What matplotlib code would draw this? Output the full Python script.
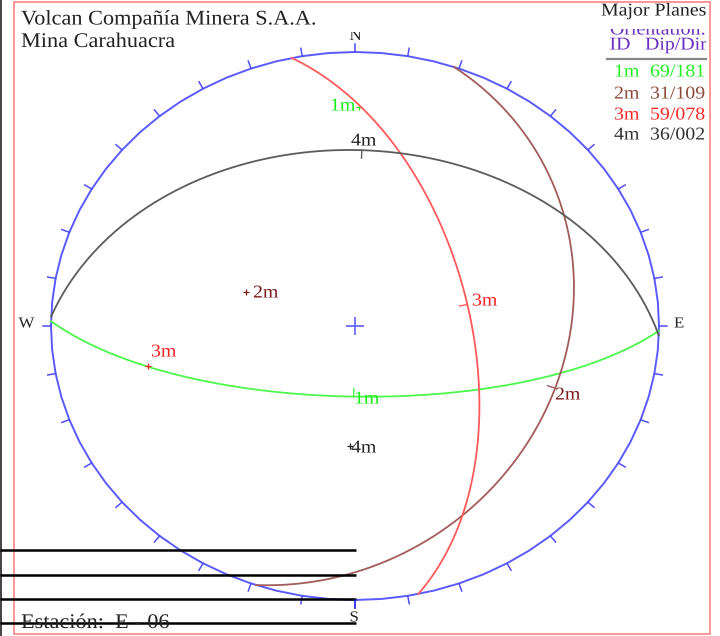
import numpy as np
import matplotlib
matplotlib.use('Agg')
import matplotlib.pyplot as plt
from matplotlib.patches import Rectangle
from matplotlib.patheffects import AbstractPathEffect
from matplotlib.transforms import Affine2D

plt.rcParams['font.family'] = ['Liberation Serif', 'DejaVu Serif']

# planes
ids = ['1m', '2m', '3m', '4m']
dips = [69, 31, 59, 36]
dip_dirs = [181, 109, 78, 2]

line_colors = ['#4cf84c', '#a25c5c', '#ff5a5a', '#5c5c5c']
text_colors = ['#22f022', '#8a4a3a', '#fb2a2a', '#333333']
label_colors = ['#14ee14', '#7a1a1a', '#f82020', '#222222']

tick_az = np.arange(0, 360, 10)

# pixel layout of the net (it is stretched, not round)
cx, cy = 355, 326
rx, ry = 304, 274


class Wide(AbstractPathEffect):
    # the text in the reference is wider than the font
    def __init__(self, k):
        super().__init__()
        self.k = k

    def draw_path(self, renderer, gc, tpath, affine, rgbFace=None):
        renderer.draw_path(gc, tpath, Affine2D().scale(self.k, 1) + affine, rgbFace)


def label(x, y, s, color='#222222', size=13, k=1.1, clip=None):
    t = ax.text(x, y, s, color=color, fontsize=size, va='center', ha='left',
                path_effects=[Wide(k)])
    if clip is not None:
        t.set_clip_path(clip)
        t.set_clip_on(True)
    return t


def to_px(trend, plunge):
    # equal area lower hemisphere
    r = np.sqrt(2) * np.sin(np.radians(90 - plunge) / 2)
    t = np.radians(trend)
    return cx + rx * r * np.sin(t), cy - ry * r * np.cos(t)


def plane_px(dip, ddir):
    strike = np.radians(ddir - 90)
    az = np.radians(ddir)
    d = np.radians(dip)
    a = np.radians(np.arange(0, 180.5, 1))
    east = np.cos(a) * np.sin(strike) + np.sin(a) * np.cos(d) * np.sin(az)
    north = np.cos(a) * np.cos(strike) + np.sin(a) * np.cos(d) * np.cos(az)
    down = np.sin(a) * np.sin(d)
    trend = np.degrees(np.arctan2(east, north))
    plunge = np.degrees(np.arcsin(np.clip(down, -1, 1)))
    return to_px(trend, plunge)


fig = plt.figure(figsize=(7.2, 6.36), dpi=100)
ax = fig.add_axes([0, 0, 1, 1])
ax.set_xlim(0, 720)
ax.set_ylim(636, 0)
ax.axis('off')

# frame
ax.add_patch(Rectangle((13.5, 1.5), 696.5, 632, fill=False, ec='#ff7a7a', lw=1.1))
ax.plot([1, 1], [0, 636], color='#222222', lw=1.2)

# net outline and ticks
az = np.radians(np.arange(0, 361, 5))
ax.plot(cx + rx * np.sin(az), cy - ry * np.cos(az), color='#5a5aff', lw=1.4)
for t in tick_az:
    s, c = np.sin(np.radians(t)), np.cos(np.radians(t))
    ax.plot([cx + rx * s, cx + (rx + 8) * s], [cy - ry * c, cy - (ry + 8) * c],
            color='#5050ff', lw=1.1)
ax.plot([cx], [cy], marker='+', ms=13, mew=1.2, color='#6060ff')

# planes and poles
for i in range(len(ids)):
    x, y = plane_px(dips[i], dip_dirs[i])
    ax.plot(x, y, color=line_colors[i], lw=1.3)
    # tick on the plane, pointing to the centre
    xm, ym = to_px(dip_dirs[i], dips[i])
    dx, dy = cx - xm, cy - ym
    n = np.hypot(dx, dy)
    ax.plot([xm, xm + 8 * dx / n], [ym, ym + 8 * dy / n], color=line_colors[i], lw=1.0)
    xp, yp = to_px(dip_dirs[i] + 180, 90 - dips[i])
    ax.plot([xp], [yp], marker='+', ms=4.5, mew=0.9, color=label_colors[i])

# labels next to planes and poles
plane_pos = [(354, 399), (555, 395), (472, 301), (351, 141)]
pole_pos = [(330, 106), (253, 293), (151, 352), (351, 448)]
for i in range(len(ids)):
    label(plane_pos[i][0], plane_pos[i][1], ids[i], label_colors[i])
    label(pole_pos[i][0], pole_pos[i][1], ids[i], label_colors[i])

# compass letters
label(349.5, 36.5, 'N', size=11, clip=Rectangle((340, 32), 30, 12, transform=ax.transData))
label(18.5, 324, 'W', size=11)
label(674, 324, 'E', size=11)
label(349.5, 618, 'S', size=11)

# header
label(21, 20, 'Volcan Compañía Minera S.A.A.', size=15, k=1.07)
label(21, 42.5, 'Mina Carahuacra', size=15, k=1.07)
label(21, 623.5, 'Estación:  E - 06', size=15, k=1.07)

# table at the right
label(601, 11, 'Major Planes')
clip = Rectangle((590, 29), 116, 30, transform=ax.transData)
label(610, 30, 'Orientation:', '#6a2fc0', clip=clip)
label(609.5, 45, 'ID', '#6a2fc0', clip=clip)
label(645, 45, 'Dip/Dir', '#6a2fc0', clip=clip)
ax.plot([607, 706], [59, 59], color='#888888', lw=1.6)
rows_y = [72, 94, 115, 135]
for i in range(len(ids)):
    label(614, rows_y[i], ids[i], text_colors[i])
    label(650, rows_y[i], '%02d/%03d' % (dips[i], dip_dirs[i]), text_colors[i])

# black lines over the bottom left
for y in [550, 575, 599, 623]:
    ax.plot([0, 356], [y, y], color='black', lw=1.8, solid_capstyle='butt')
ax.plot([355, 355], [600, 608], color='#2a2aee', lw=1.1)

fig.savefig('out.png', dpi=100)
